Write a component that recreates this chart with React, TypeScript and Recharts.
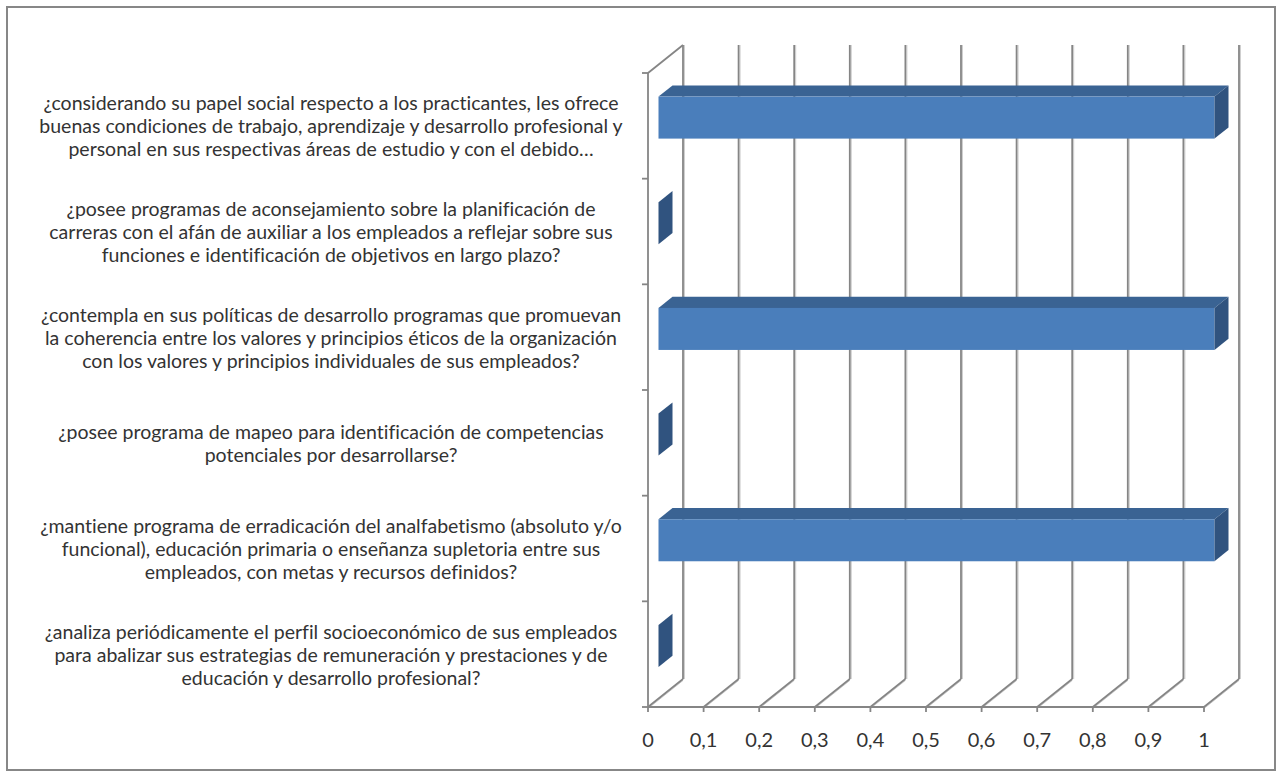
import React from 'react';
import { BarChart, Bar, XAxis, YAxis, CartesianGrid } from 'recharts';

const questionLines: string[][] = [
  [
    '¿considerando su papel social respecto a los practicantes, les ofrece',
    'buenas condiciones de trabajo, aprendizaje y desarrollo profesional y',
    'personal en sus respectivas áreas de estudio y con el debido…',
  ],
  [
    '¿posee programas de aconsejamiento sobre la planificación de',
    'carreras con el afán de auxiliar a los empleados a reflejar sobre sus',
    'funciones e identificación de objetivos en largo plazo?',
  ],
  [
    '¿contempla en sus políticas de desarrollo programas que promuevan',
    'la coherencia entre los valores y principios éticos de la organización',
    'con los valores y principios individuales de sus empleados?',
  ],
  [
    '¿posee programa de mapeo para identificación de competencias',
    'potenciales por desarrollarse?',
  ],
  [
    '¿mantiene programa de erradicación del analfabetismo (absoluto y/o',
    'funcional), educación primaria o enseñanza supletoria entre sus',
    'empleados, con metas y recursos definidos?',
  ],
  [
    '¿analiza periódicamente el perfil socioeconómico de sus empleados',
    'para abalizar sus estrategias de remuneración y prestaciones y de',
    'educación y desarrollo profesional?',
  ],
];

const answerValues = [1, 0, 1, 0, 1, 0];

const xTicks = [0, 0.1, 0.2, 0.3, 0.4, 0.5, 0.6, 0.7, 0.8, 0.9, 1];
const xTickLabels = ['0', '0,1', '0,2', '0,3', '0,4', '0,5', '0,6', '0,7', '0,8', '0,9', '1'];

const data = questionLines.map((lines, i) => ({
  name: lines.join(' '),
  value: answerValues[i],
}));

// 3d depth of the plot box and of the bars
const DEPTH_X = 35;
const DEPTH_Y = -28;
const BAR_OFF = 0.3;
const BAR_DEPTH = 0.4;

const GRID = '#858585';
const GRID_SHADOW = '#cfcfcf';
const TEXT = '#333333';
const FONT = 'Lato, "Open Sans", sans-serif';

const VerticalWall = (props: any) => {
  const { x1, y1, y2 } = props;
  const bx = x1 + DEPTH_X;
  return (
    <g>
      <line x1={bx + 1.5} y1={y1 + DEPTH_Y} x2={bx + 1.5} y2={y2 + DEPTH_Y} stroke={GRID_SHADOW} strokeWidth={1} />
      <line x1={bx} y1={y1 + DEPTH_Y} x2={bx} y2={y2 + DEPTH_Y} stroke={GRID} strokeWidth={1.8} />
      <line x1={x1} y1={y2 + 1.5} x2={bx} y2={y2 + DEPTH_Y + 1.5} stroke={GRID_SHADOW} strokeWidth={1} />
      <line x1={x1} y1={y2} x2={bx} y2={y2 + DEPTH_Y} stroke={GRID} strokeWidth={1.8} />
    </g>
  );
};

const HorizontalMarks = (props: any) => {
  const { x1, y1, index } = props;
  return (
    <g>
      <line x1={x1 - 6} y1={y1} x2={x1} y2={y1} stroke={GRID} strokeWidth={1.8} />
      {index === 0 && (
        <line x1={x1} y1={y1} x2={x1 + DEPTH_X} y2={y1 + DEPTH_Y} stroke={GRID} strokeWidth={1.8} />
      )}
    </g>
  );
};

const Bar3D = (props: any) => {
  const { x, y, width, height } = props;
  const fx = x + DEPTH_X * BAR_OFF;
  const fy = y + DEPTH_Y * BAR_OFF;
  const dx = DEPTH_X * BAR_DEPTH;
  const dy = DEPTH_Y * BAR_DEPTH;
  const w = Math.max(0, width || 0);
  return (
    <g>
      {w > 0 && (
        <polygon
          points={`${fx},${fy} ${fx + dx},${fy + dy} ${fx + w + dx},${fy + dy} ${fx + w},${fy}`}
          fill="#3A6393"
        />
      )}
      {w > 0 && <rect x={fx} y={fy} width={w} height={height} fill="#4A7EBB" />}
      <polygon
        points={`${fx + w},${fy} ${fx + w + dx},${fy + dy} ${fx + w + dx},${fy + height + dy} ${fx + w},${fy + height}`}
        fill="#30537F"
      />
    </g>
  );
};

const QuestionTick = (props: any) => {
  const { x, y, payload } = props;
  const lines = questionLines[payload.index] || [];
  const lh = 23;
  const start = y - ((lines.length - 1) * lh) / 2;
  return (
    <text
      x={x - 317}
      y={start}
      textAnchor="middle"
      fill={TEXT}
      fontFamily={FONT}
      fontSize={19.5}
      style={{ fontVariantLigatures: 'none' }}
    >
      {lines.map((l, i) => (
        <tspan key={i} x={x - 317} y={start + i * lh} dominantBaseline="central">
          {l}
        </tspan>
      ))}
    </text>
  );
};

const ValueTick = (props: any) => {
  const { x, y, payload } = props;
  const i = xTicks.indexOf(payload.value);
  return (
    <text x={x} y={y + 27} textAnchor="middle" dominantBaseline="central" fill={TEXT} fontFamily={FONT} fontSize={20}>
      {xTickLabels[i] ?? String(payload.value)}
    </text>
  );
};

export default function App() {
  return (
    <div style={{ position: 'absolute', left: 0, top: 0, width: 1282, height: 776, background: '#fff' }}>
      <div
        style={{
          position: 'absolute',
          left: 6,
          top: 6,
          width: 1270,
          height: 765,
          boxSizing: 'border-box',
          border: '2px solid #878787',
        }}
      />
      <div style={{ position: 'absolute', left: 0, top: 0 }}>
        <BarChart
          width={1282}
          height={776}
          data={data}
          layout="vertical"
          margin={{ top: 73, right: 78, bottom: 29, left: 8 }}
        >
          <CartesianGrid
            vertical={VerticalWall}
            horizontal={HorizontalMarks}
            horizontalCoordinatesGenerator={({ offset }: any) =>
              data.map((_, i) => offset.top + (i * offset.height) / data.length).concat(offset.top + offset.height)
            }
          />
          <XAxis
            type="number"
            domain={[0, 1]}
            ticks={xTicks}
            height={40}
            tickSize={5}
            tickMargin={0}
            stroke={GRID}
            axisLine={{ stroke: GRID, strokeWidth: 1.8 }}
            tickLine={{ stroke: GRID, strokeWidth: 1.8 }}
            tick={<ValueTick />}
            interval={0}
          />
          <YAxis
            type="category"
            dataKey="name"
            width={640}
            tickSize={0}
            tickMargin={0}
            tickLine={false}
            axisLine={{ stroke: GRID, strokeWidth: 1.8 }}
            tick={<QuestionTick />}
            interval={0}
          />
          <Bar dataKey="value" barSize={42} shape={<Bar3D />} isAnimationActive={false} />
        </BarChart>
      </div>
    </div>
  );
}
